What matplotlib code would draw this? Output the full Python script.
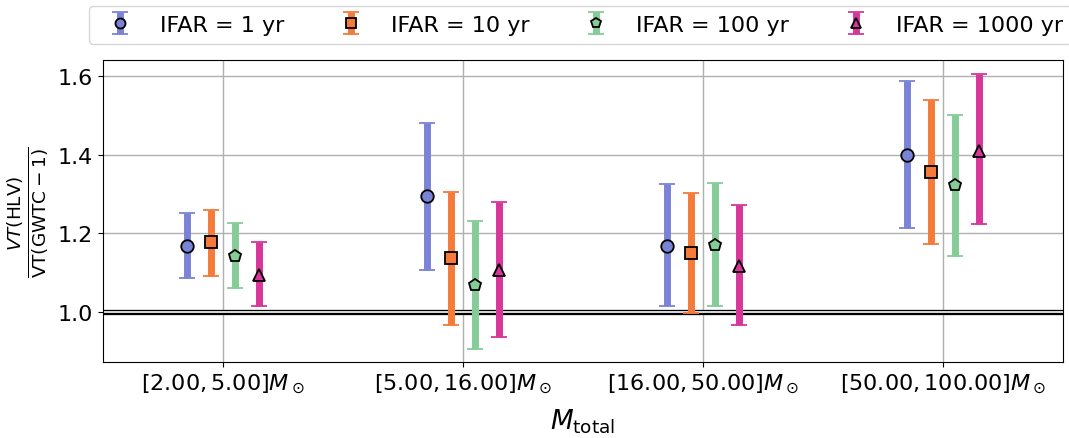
import numpy as np
import matplotlib
matplotlib.use('Agg')
import matplotlib.pyplot as plt

# Daten: Massenbins und VT-Verhältnisse (Mittelwert, untere/obere Grenze)
bins = [r'$[2.00, 5.00]M_\odot$', r'$[5.00, 16.00]M_\odot$',
        r'$[16.00, 50.00]M_\odot$', r'$[50.00, 100.00]M_\odot$']
ifar_labels = ['IFAR = 1 yr', 'IFAR = 10 yr', 'IFAR = 100 yr', 'IFAR = 1000 yr']

mid_1 = [1.169, 1.294, 1.167, 1.399]
lo_1 = [1.087, 1.108, 1.016, 1.213]
hi_1 = [1.252, 1.480, 1.325, 1.588]

mid_10 = [1.177, 1.137, 1.149, 1.355]
lo_10 = [1.091, 0.967, 0.997, 1.173]
hi_10 = [1.260, 1.306, 1.302, 1.539]

mid_100 = [1.143, 1.069, 1.170, 1.323]
lo_100 = [1.060, 0.906, 1.016, 1.143]
hi_100 = [1.226, 1.231, 1.328, 1.502]

mid_1000 = [1.094, 1.108, 1.118, 1.410]
lo_1000 = [1.015, 0.936, 0.968, 1.223]
hi_1000 = [1.177, 1.280, 1.273, 1.606]

series = [(mid_1, lo_1, hi_1), (mid_10, lo_10, hi_10),
          (mid_100, lo_100, hi_100), (mid_1000, lo_1000, hi_1000)]
colors = ['#7b83d6', '#f47b3a', '#86cc98', '#d7369a']
markers = ['o', 's', 'p', '^']
offsets = [-0.15, -0.05, 0.05, 0.15]

fig = plt.figure(figsize=(10.69, 4.39), dpi=100)
ax = fig.add_axes([103/1069, 1 - 363/439, 960/1069, 302/439])

x = np.arange(len(bins))
for (mid, lo, hi), c, m, off, lab in zip(series, colors, markers, offsets, ifar_labels):
    mid = np.array(mid)
    err = [mid - np.array(lo), np.array(hi) - mid]
    ax.errorbar(x + off, mid, yerr=err, fmt=m, color=c, ecolor=c,
                elinewidth=5, capsize=5.5, capthick=2.5,
                markersize=9, markeredgecolor='black', markeredgewidth=1.3,
                markerfacecolor=c, label=lab, zorder=3)

# Referenzlinie bei 1
ax.axhline(1.0, color='black', linewidth=3.8, zorder=2)
ax.axhline(1.0, color='white', linewidth=1.2, zorder=2)

ax.set_xlim(-0.5, 3.5)
ax.set_ylim(0.873, 1.641)
ax.set_yticks([1.0, 1.2, 1.4, 1.6])
ax.set_xticks(x)
ax.set_xticklabels(bins)
ax.tick_params(labelsize=16)
ax.grid(True, color='#b0b0b0', linewidth=1, zorder=0)
ax.set_axisbelow(True)

ax.set_xlabel(r'$M_{\rm total}$', fontsize=19, labelpad=8)
ax.set_ylabel(r'$\frac{VT(\rm HLV)}{VT(\rm GWTC-1)}$', fontsize=19, labelpad=6)

fig.legend(loc='upper left', bbox_to_anchor=(89/1069, 1 - 7/439), ncol=4,
           fontsize=16, borderaxespad=0, markerscale=0.8, frameon=True)

fig.savefig('out.png', dpi=100)
